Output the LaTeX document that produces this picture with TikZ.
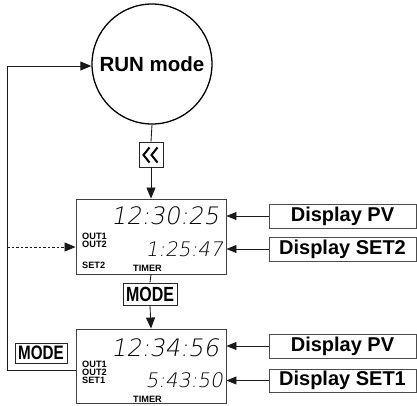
\documentclass[tikz,border=0pt]{standalone}
\usepackage{fontspec}
\setmainfont{Liberation Sans}
\newfontfamily\lcd[FakeSlant=0.18]{DejaVu Sans ExtraLight}
\usetikzlibrary{arrows.meta}
\begin{document}
\begin{tikzpicture}[x=1pt,y=-1pt,
  ln/.style={line width=0.85pt,draw=black!90},
  big/.style={-{Triangle[length=11pt,width=9pt]}},
  sm/.style={-{Triangle[length=10pt,width=8pt]}},
  lcdbox/.style={draw=black!75,line width=0.9pt,minimum width=150pt,inner sep=0pt},
  lbl/.style={draw=black!70,line width=0.9pt,minimum width=147pt,inner sep=0pt,
    font=\fontsize{20}{22}\selectfont\bfseries},
  keybox/.style={draw=black!85,line width=0.9pt,inner sep=0pt},
  tiny/.style={font=\fontsize{9.2}{9.2}\selectfont\bfseries,inner sep=0pt},
  lcdbig/.style={font=\fontsize{24}{24}\selectfont\lcd,inner sep=0pt},
  lcdsmall/.style={font=\fontsize{20}{20}\selectfont\lcd,inner sep=0pt}]
\useasboundingbox (0,0) rectangle (417,405);
% nodes
\node[draw,circle,line width=1.3pt,minimum size=120pt,inner sep=0pt,
  font=\fontsize{20.5}{22}\selectfont\bfseries] (run) at (152,64) {RUN mode};
\node[keybox,minimum width=24pt,minimum height=25pt] (key) at (151,154.5) {};
\node[keybox,minimum width=54pt,minimum height=22pt] (m1) at (150,294)
  {\scalebox{0.78}[1]{\fontsize{20.5}{20}\selectfont\bfseries MODE}};
\node[lcdbox,minimum height=75pt] (d1) at (151,236.5) {};
\node[lcdbox,minimum height=74pt] (d2) at (151,366) {};
\node[keybox,minimum width=52pt,minimum height=20pt] (m2) at (41,353)
  {\scalebox{0.78}[1]{\fontsize{19.5}{20}\selectfont\bfseries MODE}};
\node[lbl,minimum height=24pt] (pv1) at (342.5,216) {Display PV};
\node[lbl,minimum height=24pt] (s2) at (342.5,249) {Display SET2};
\node[lbl,minimum height=24pt] (pv2) at (342.5,346) {Display PV};
\node[lbl,minimum height=23pt] (s1) at (342.5,380.5) {Display SET1};
% chevrons
\draw[line width=2pt,line join=miter] (149.5,147.5) -- (143.5,155) -- (149.5,162.5);
\draw[line width=2pt,line join=miter] (157.5,147.5) -- (151.5,155) -- (157.5,162.5);
% display 1 contents
\node[lcdbig,anchor=east] (t1) at (219,216) {12:30:25};
\node[lcdsmall,anchor=east] (v1) at (223,249.5) {1:25:47};
\node[tiny,anchor=west] (o11) at (82,236.5) {OUT1};
\node[tiny,anchor=west] (o12) at (82,244.5) {OUT2};
\node[tiny,anchor=west] (st2) at (82,265) {SET2};
\node[tiny] (tm1) at (147.5,268.5) {TIMER};
% display 2 contents
\node[lcdbig,anchor=east] (t2) at (219,348) {12:34:56};
\node[lcdsmall,anchor=east] (v2) at (223,380) {5:43:50};
\node[tiny,anchor=west] (o21) at (82,364.5) {OUT1};
\node[tiny,anchor=west] (o22) at (82,372.5) {OUT2};
\node[tiny,anchor=west] (st1) at (82,380.5) {SET1};
\node[tiny] (tm2) at (147.5,399) {TIMER};
% connectors
\draw[ln] (run.south) -- (key.north);
\draw[ln,big] (key.south) -- (d1.north);
\draw[ln] (d1.south) -- (m1.north);
\draw[ln,big] (m1.south) -- (d2.north);
\draw[ln,sm] (pv1.west) -- (pv1.west -| d1.east);
\draw[ln,sm] (s2.west) -- (s2.west -| d1.east);
\draw[ln,sm] (pv2.west) -- (pv2.west -| d2.east);
\draw[ln,sm] (s1.west) -- (s1.west -| d2.east);
\coordinate (lb) at (7,370);
\coordinate (lt) at (7,66);
\draw[ln,big] (lb -| d2.west) -- (lb) -- (lt) -- (lt -| run.west);
\coordinate (dt) at (7,247);
\draw[ln,big,dash pattern=on 2.5pt off 2pt] (dt) -- (dt -| d1.west);
\end{tikzpicture}
\end{document}
